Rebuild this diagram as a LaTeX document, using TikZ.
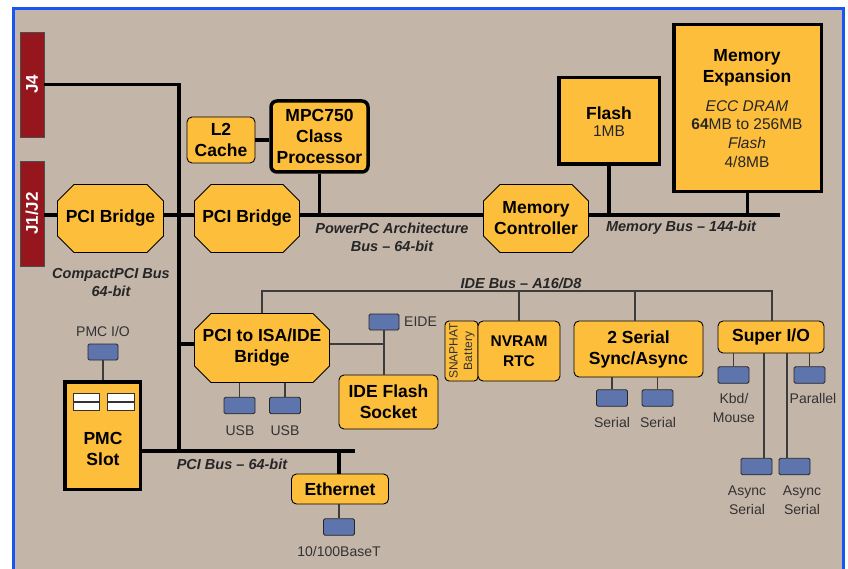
\documentclass[tikz,border=0pt]{standalone}
\usepackage{fontspec}
\setmainfont{Liberation Sans}
\usetikzlibrary{calc}
\definecolor{bgc}{RGB}{196,181,169}
\definecolor{boxc}{RGB}{253,190,60}
\definecolor{redc}{RGB}{150,22,30}
\definecolor{bluec}{RGB}{94,116,172}
\definecolor{framec}{RGB}{25,85,245}
\definecolor{linec}{RGB}{60,60,60}
\definecolor{lblc}{RGB}{50,50,50}
\newcommand\bx{\fontsize{17.5bp}{21bp}\selectfont\bfseries}
\newcommand\plf{\fontsize{14bp}{19bp}\selectfont}
\newcommand\blf{\fontsize{14.5bp}{18bp}\selectfont\bfseries\itshape}
\begin{document}
\begin{tikzpicture}[x=1bp,y=-1bp,
  bus/.style={line width=3.5bp, draw=black},
  wire/.style={draw=linec, line width=1.2bp},
  conn/.style={fill=redc, draw=black!70, line width=0.6bp, minimum width=24bp, minimum height=105bp, inner sep=0},
  conntxt/.style={rotate=90, text=white, inner sep=0, font=\fontsize{17bp}{20bp}\selectfont\bfseries},
  rbox/.style={fill=boxc, draw=black, line width=0.9bp, rounded corners=5bp, align=center, inner sep=0, font=\bx},
  tbox/.style={fill=boxc, draw=black, line width=3.5bp, inner sep=0, align=center, font=\bx},
  port/.style={fill=bluec, draw=black!85, line width=0.8bp, rounded corners=1.5bp, minimum width=31bp, minimum height=16.5bp, inner sep=0},
  plbl/.style={text=lblc, font=\plf, align=center, inner sep=0},
  blbl/.style={text=black!85, font=\blf, align=center, inner sep=0},
  txt/.style={font=\bx, align=center, inner sep=0},
  octo/.style={inner sep=0, align=center, font=\bx,
    path picture={\path[fill=boxc,draw=black,line width=0.9bp]
      ([xshift=17bp,yshift=-0.5bp]path picture bounding box.north west) --
      ([xshift=-17bp,yshift=-0.5bp]path picture bounding box.north east) --
      ([xshift=-0.5bp,yshift=-17bp]path picture bounding box.north east) --
      ([xshift=-0.5bp,yshift=17bp]path picture bounding box.south east) --
      ([xshift=-17bp,yshift=0.5bp]path picture bounding box.south east) --
      ([xshift=17bp,yshift=0.5bp]path picture bounding box.south west) --
      ([xshift=0.5bp,yshift=17bp]path picture bounding box.south west) --
      ([xshift=0.5bp,yshift=-17bp]path picture bounding box.north west) -- cycle;}}
]
\useasboundingbox (0,0) rectangle (848,569);
\fill[white] (0,0) rectangle (848,569);
\draw[framec, line width=3bp, fill=bgc] (13.5,8.5) rectangle (843,590);

% connectors
\node[conn] (j4) at (32,84.5) {};
\node[conntxt] (j4t) at (j4) {J4};
\node[conn] (j12) at (32,213.5) {};
\node[conntxt] (j12t) at (j12) {J1/J2};

% upper row
\node[octo, minimum width=107bp, minimum height=69bp] (pb1) at (110.5,218.5) {PCI Bridge};
\node[octo, minimum width=106bp, minimum height=69bp] (pb2) at (247,218.5) {PCI Bridge};
\node[octo, minimum width=106bp, minimum height=69bp] (mc) at (536,218.5) {Memory\\Controller};
\node[rbox, minimum width=68bp, minimum height=46bp] (l2) at (221,140) {L2\\Cache};
\node[tbox, rounded corners=6bp, minimum width=97bp, minimum height=71bp] (cpu) at (319.5,136.5) {MPC750\\Class\\Processor};
\node[tbox, minimum width=100.5bp, minimum height=86.5bp] (flash) at (609,121) {};
\node[txt] (flasht1) at (609,113) {Flash};
\node[plbl, text=black!85, font=\fontsize{15.5bp}{18bp}\selectfont] (flasht2) at (609,131) {1MB};
\node[tbox, minimum width=147.5bp, minimum height=166.5bp] (memx) at (747.5,108) {};
\node[txt] (memxt) at (747,67.5) {Memory\\Expansion};
\node[plbl, text=black!85, font=\fontsize{15.5bp}{18.7bp}\selectfont] (memxd) at (747,134) {\textit{ECC DRAM}\\\textbf{64}MB to 256MB\\\textit{Flash}\\4/8MB};

% bus labels
\node[blbl] (ppc) at (392,237) {PowerPC Architecture\\Bus -- 64-bit};
\node[blbl] (memb) at (681,228) {Memory Bus -- 144-bit};
\node[blbl] (cpci) at (111,283) {CompactPCI Bus\\64-bit};
\node[blbl] (ideb) at (521,283) {IDE Bus -- A16/D8};
\node[blbl] (pcib) at (232,464) {PCI Bus -- 64-bit};

% lower left
\node[octo, minimum width=136bp, minimum height=70bp] (isa) at (262,348) {PCI to ISA/IDE\\Bridge};
\node[port, minimum width=30bp, minimum height=16bp] (eide) at (384,322) {};
\node[plbl, anchor=west] (eidet) at (404,322) {EIDE};
\node[rbox, minimum width=99bp, minimum height=54bp] (idef) at (388.5,402) {IDE Flash\\Socket};
\node[port] (usb1) at (239.5,405.5) {};
\node[port] (usb2) at (285,405.5) {};
\node[plbl] (usb1t) at (240,431) {USB};
\node[plbl] (usb2t) at (285,431) {USB};
\node[port, minimum width=30bp, minimum height=16bp] (pmcio) at (103,352) {};
\node[plbl] (pmciot) at (103,331) {PMC I/O};
\node[tbox, minimum width=75.5bp, minimum height=107.5bp] (pmc) at (102.5,435.5) {};
\draw[fill=white, draw=black!80, line width=0.6bp] (73,393) rectangle (99,401);
\draw[fill=white, draw=black!80, line width=0.6bp] (73,402.5) rectangle (99,410);
\draw[fill=white, draw=black!80, line width=0.6bp] (107,393) rectangle (134,401);
\draw[fill=white, draw=black!80, line width=0.6bp] (107,402.5) rectangle (134,410);
\node[txt] (pmct) at (103,449) {PMC\\Slot};
\node[rbox, minimum width=97bp, minimum height=30bp] (eth) at (340,489) {Ethernet};
\node[port] (ethp) at (339,527) {};
\node[plbl] (etht) at (339,551) {10/100BaseT};

% lower right
\node[rbox, rounded corners=4bp, minimum width=33bp, minimum height=60bp] (batt) at (461.5,351) {};
\node[rotate=90, align=center, inner sep=0, text=lblc, font=\fontsize{12bp}{14.5bp}\selectfont] (battt) at (462,351) {SNAPHAT\\Battery};
\node[rbox, minimum width=82bp, minimum height=60bp, font=\fontsize{15.5bp}{19.5bp}\selectfont\bfseries] (nvram) at (519,351) {NVRAM\\RTC};
\node[rbox, minimum width=129bp, minimum height=56bp] (ser) at (638.5,349) {2 Serial\\Sync/Async};
\node[port] (sp1) at (612,398) {};
\node[port] (sp2) at (657.5,398) {};
\node[plbl] (sp1t) at (612,422) {Serial};
\node[plbl] (sp2t) at (658,422) {Serial};
\node[rbox, minimum width=106bp, minimum height=32bp] (sio) at (771,337) {Super I/O};
\node[port] (kbd) at (733.5,375) {};
\node[port] (par) at (809.5,375) {};
\node[port] (as1) at (756.5,466.5) {};
\node[port] (as2) at (794.5,466.5) {};
\node[plbl] (kbdt) at (734,408) {Kbd/\\Mouse};
\node[plbl] (part) at (813,398) {Parallel};
\node[plbl] (as1t) at (747,500) {Async\\Serial};
\node[plbl] (as2t) at (802,500) {Async\\Serial};

% coordinates
\coordinate (busy) at (0,215);
\coordinate (vtop) at (179,84.5);
\coordinate (vbot) at (179,451);
\coordinate (memend) at (780,215);
\coordinate (isaj) at (179,344);
\coordinate (pcir) at (355,451);
\coordinate (ideL) at (262,291);
\coordinate (ideR) at (772,291);
\coordinate (serdrop) at (635,291);
\coordinate (a1x) at (764,400);
\coordinate (a2x) at (787,400);

% thick buses
\draw[bus] (j4.east) -- (vtop) -- (vbot);
\draw[bus] (j12.east |- busy) -- (pb1.west |- busy);
\draw[bus] (pb1.east |- busy) -- (pb2.west |- busy);
\draw[bus] (pb2.east |- busy) -- (mc.west |- busy);
\draw[bus] (mc.east |- busy) -- (memend);
\draw[bus] (cpu.south) -- (cpu.south |- busy);
\draw[bus] (flash.south) -- (flash.south |- busy);
\draw[bus] (memx.south) -- (memx.south |- busy);
\draw[bus] (l2.east) -- (l2.east -| cpu.west);
\draw[bus] (isaj) -- (isaj -| isa.west);
\draw[bus] (pmc.east |- vbot) -- (pcir);
\draw[bus] (ethp.north |- pcir) -- (ethp.north |- eth.north);

% thin wires
\draw[wire] (isaj -| isa.east) -- (isaj -| eide.south);
\draw[wire] (eide.south) -- (eide.south |- idef.north);
\draw[wire] (usb1.north) -- (usb1.north |- isa.south);
\draw[wire] (usb2.north) -- (usb2.north |- isa.south);
\draw[wire] (isa.north) -- (ideL) -- (ideR) -- (ideR |- sio.north);
\draw[wire] (nvram.north |- ideL) -- (nvram.north);
\draw[wire] (serdrop) -- (serdrop |- ser.north);
\draw[wire] (pmcio.south) -- (pmcio.south |- pmc.north);
\draw[wire] (ethp.north) -- (ethp.north |- eth.south);
\draw[wire] (sp1.north) -- (sp1.north |- ser.south);
\draw[wire] (sp2.north) -- (sp2.north |- ser.south);
\draw[wire] (kbd.north) -- (kbd.north |- sio.south);
\draw[wire] (par.north) -- (par.north |- sio.south);
\draw[wire] (as1.north -| a1x) -- (sio.south -| a1x);
\draw[wire] (as2.north -| a2x) -- (sio.south -| a2x);
\end{tikzpicture}
\end{document}
